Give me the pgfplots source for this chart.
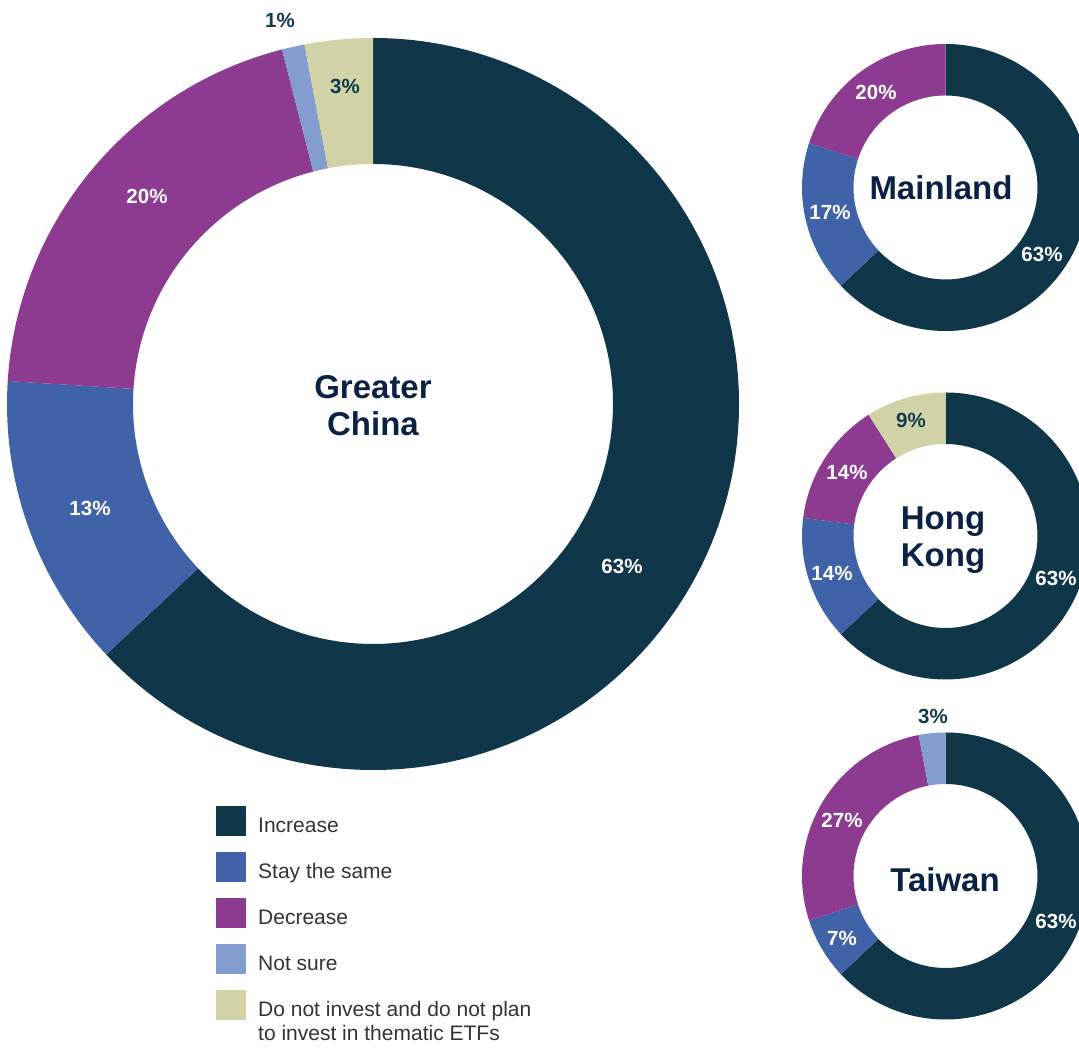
\documentclass[border=0pt]{standalone}
\usepackage{pgfplots}
\pgfplotsset{compat=1.18}
\usepackage{fontspec}
\setmainfont{Liberation Sans}
\definecolor{cInc}{HTML}{10364A}
\definecolor{cSame}{HTML}{4062A8}
\definecolor{cDec}{HTML}{8D3B91}
\definecolor{cNot}{HTML}{849DD0}
\definecolor{cNo}{HTML}{D1D3A6}
\definecolor{cTxt}{HTML}{0C2244}
\definecolor{cPct}{HTML}{143A4E}
\definecolor{cLeg}{HTML}{333333}

% values (percent), clockwise from 12 o'clock
\def\dataGC{63/cInc,13/cSame,20/cDec,1/cNot,3/cNo}
\def\dataML{63/cInc,17/cSame,20/cDec}
\def\dataHK{63/cInc,14/cSame,14/cDec,9/cNo}
\def\dataTW{63/cInc,7/cSame,27/cDec,3/cNot}

% #1 cx, #2 cy (axis), #3 outer R, #4 inner r, #5 data list
\newcommand\donut[5]{%
  \gdef\cum{0}%
  \foreach \v/\c in #5{%
    \pgfmathsetmacro\aA{90-3.6*\cum}%
    \pgfmathsetmacro\aB{90-3.6*(\cum+\v)}%
    \pgfmathsetmacro\xA{#1+#3*cos(\aA)}%
    \pgfmathsetmacro\yA{#2+#3*sin(\aA)}%
    \pgfmathsetmacro\xB{#1+#4*cos(\aB)}%
    \pgfmathsetmacro\yB{#2+#4*sin(\aB)}%
    \edef\tmp{\noexpand\fill[\c] (axis cs:\xA,\yA) arc[start angle=\aA,end angle=\aB,radius=#3pt] -- (axis cs:\xB,\yB) arc[start angle=\aB,end angle=\aA,radius=#4pt] -- cycle;}%
    \tmp
    \pgfmathsetmacro\newcum{\cum+\v}%
    \xdef\cum{\newcum}%
  }%
}
\newcommand\pct[4]{\node[text=#3,font=\bfseries\fontsize{20.5}{24}\selectfont] at (axis cs:#1,{1048-#2}) {#4};}
\newcommand\ctr[3]{\node[text=cTxt,align=center,font=\bfseries\fontsize{33}{37}\selectfont] at (axis cs:#1,{1048-#2}) {#3};}
\newcommand\legtxt[2]{\node[anchor=base west,inner sep=0pt,text=cLeg,font=\fontsize{21}{25}\selectfont] at (axis cs:258,{1048-#1}) {#2};}
\newcommand\legbox[2]{\fill[#2] (axis cs:216,{1048-#1}) rectangle (axis cs:246,{1048-#1-30});}

\begin{document}
\begin{tikzpicture}
\begin{axis}[width=1079pt,height=1048pt,scale only axis,
  xmin=0,xmax=1079,ymin=0,ymax=1048,hide axis,xtick=\empty,ytick=\empty,clip=true]
\donut{373}{644}{366}{240}{\dataGC}
\donut{945.5}{860.5}{143.5}{92}{\dataML}
\donut{945.5}{512}{143.5}{92}{\dataHK}
\donut{945.5}{172}{143.5}{92}{\dataTW}

\pct{280}{20}{cPct}{1\%}
\pct{345}{86}{cPct}{3\%}
\pct{147}{196}{white}{20\%}
\pct{90}{508}{white}{13\%}
\pct{622}{566}{white}{63\%}
\ctr{373}{406}{Greater\\China}

\pct{876}{92}{white}{20\%}
\pct{830}{212}{white}{17\%}
\pct{1042}{254}{white}{63\%}
\ctr{941}{188}{Mainland}

\pct{911}{420}{cPct}{9\%}
\pct{847}{472}{white}{14\%}
\pct{832}{573}{white}{14\%}
\pct{1056}{578}{white}{63\%}
\ctr{943}{540}{Hong\\Kong}

\pct{933}{716}{cPct}{3\%}
\pct{842}{820}{white}{27\%}
\pct{842}{938}{white}{7\%}
\pct{1056}{921}{white}{63\%}
\ctr{945}{880}{Taiwan}

\legbox{806}{cInc}\legtxt{833}{Increase}
\legbox{852}{cSame}\legtxt{879}{Stay the same}
\legbox{898}{cDec}\legtxt{925}{Decrease}
\legbox{944}{cNot}\legtxt{971}{Not sure}
\legbox{990}{cNo}\legtxt{1017}{Do not invest and do not plan}
\legtxt{1041}{to invest in thematic ETFs}
\end{axis}
\pgfresetboundingbox
\useasboundingbox (current axis.south west) rectangle (current axis.north east);
\end{tikzpicture}
\end{document}
